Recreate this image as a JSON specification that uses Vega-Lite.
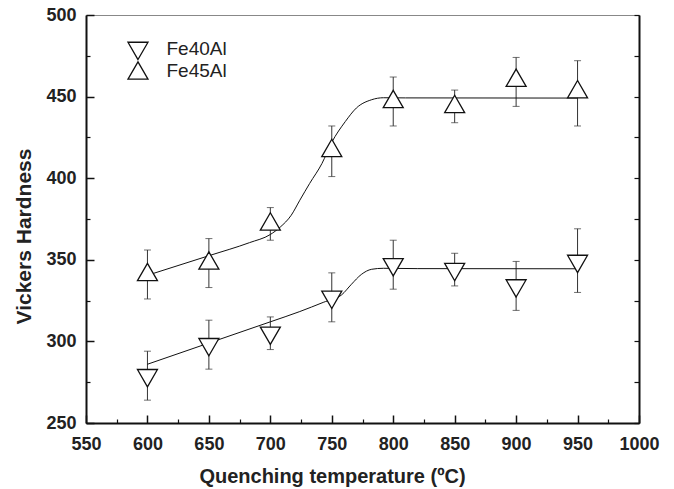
{
  "$schema": "https://vega.github.io/schema/vega-lite/v6.json",
  "width": 553,
  "height": 408,
  "autosize": "none",
  "padding": {"left": 86, "top": 15, "right": 35, "bottom": 66},
  "background": "white",
  "config": {
    "view": {"stroke": "#888888", "strokeWidth": 1},
    "font": "Liberation Sans"
  },
  "datasets": {
    "meas": [
      {"T": 600, "series": "Fe40Al", "v": 279, "lo": 264, "hi": 294},
      {"T": 650, "series": "Fe40Al", "v": 298, "lo": 283, "hi": 313},
      {"T": 700, "series": "Fe40Al", "v": 305, "lo": 295, "hi": 315},
      {"T": 750, "series": "Fe40Al", "v": 327, "lo": 312, "hi": 342},
      {"T": 800, "series": "Fe40Al", "v": 347, "lo": 332, "hi": 362},
      {"T": 850, "series": "Fe40Al", "v": 344, "lo": 334, "hi": 354},
      {"T": 900, "series": "Fe40Al", "v": 334, "lo": 319, "hi": 349},
      {"T": 950, "series": "Fe40Al", "v": 349, "lo": 330, "hi": 369},
      {"T": 600, "series": "Fe45Al", "v": 341, "lo": 326, "hi": 356},
      {"T": 650, "series": "Fe45Al", "v": 348, "lo": 333, "hi": 363},
      {"T": 700, "series": "Fe45Al", "v": 372, "lo": 362, "hi": 382},
      {"T": 750, "series": "Fe45Al", "v": 417, "lo": 401, "hi": 432},
      {"T": 800, "series": "Fe45Al", "v": 447, "lo": 432, "hi": 462},
      {"T": 850, "series": "Fe45Al", "v": 444, "lo": 434, "hi": 454},
      {"T": 900, "series": "Fe45Al", "v": 460, "lo": 444, "hi": 474},
      {"T": 950, "series": "Fe45Al", "v": 453, "lo": 432, "hi": 472}
    ],
    "fit": [
      {"T": 600, "series": "Fe40Al", "v": 286},
      {"T": 650, "series": "Fe40Al", "v": 299},
      {"T": 700, "series": "Fe40Al", "v": 312},
      {"T": 724, "series": "Fe40Al", "v": 318.3},
      {"T": 743, "series": "Fe40Al", "v": 323.9},
      {"T": 758, "series": "Fe40Al", "v": 328.5},
      {"T": 766, "series": "Fe40Al", "v": 335},
      {"T": 774, "series": "Fe40Al", "v": 341},
      {"T": 782.5, "series": "Fe40Al", "v": 344.2},
      {"T": 792, "series": "Fe40Al", "v": 344.8},
      {"T": 820, "series": "Fe40Al", "v": 344.6},
      {"T": 950, "series": "Fe40Al", "v": 344.5},
      {"T": 600, "series": "Fe45Al", "v": 340.5},
      {"T": 650, "series": "Fe45Al", "v": 352.5},
      {"T": 683, "series": "Fe45Al", "v": 360.5},
      {"T": 700, "series": "Fe45Al", "v": 365.5},
      {"T": 708, "series": "Fe45Al", "v": 370},
      {"T": 717, "series": "Fe45Al", "v": 377.3},
      {"T": 724, "series": "Fe45Al", "v": 386.5},
      {"T": 732, "series": "Fe45Al", "v": 396.8},
      {"T": 742, "series": "Fe45Al", "v": 409},
      {"T": 750, "series": "Fe45Al", "v": 422},
      {"T": 761, "series": "Fe45Al", "v": 434.7},
      {"T": 770, "series": "Fe45Al", "v": 443},
      {"T": 782.5, "series": "Fe45Al", "v": 448.1},
      {"T": 792, "series": "Fe45Al", "v": 449.3},
      {"T": 810, "series": "Fe45Al", "v": 449.2},
      {"T": 950, "series": "Fe45Al", "v": 449.1}
    ]
  },
  "layer": [
    {
      "data": {"name": "meas"},
      "mark": {"type": "rule", "color": "#333333", "strokeWidth": 1},
      "encoding": {
        "x": {
          "field": "T", "type": "quantitative",
          "scale": {"domain": [550, 1000], "nice": false, "zero": false},
          "axis": {
            "orient": "bottom",
            "values": [550, 600, 650, 700, 750, 800, 850, 900, 950, 1000],
            "format": "d",
            "tickSize": -8, "tickWidth": 1.5, "tickColor": "#111111",
            "domainWidth": 2, "domainColor": "#111111",
            "labelPadding": 20, "labelFont": "Liberation Sans", "labelFontWeight": "bold",
            "labelFontSize": 18, "labelColor": "#222222", "labelFlush": false, "labelOverlap": false,
            "grid": false,
            "title": "Quenching temperature (ºC)",
            "titleFont": "Liberation Sans", "titleFontWeight": "bold", "titleFontSize": 20,
            "titleColor": "#222222", "titleX": 246, "titleY": 59, "titleBaseline": "alphabetic"
          }
        },
        "y": {
          "field": "lo", "type": "quantitative",
          "scale": {"domain": [250, 500], "nice": false, "zero": false},
          "axis": {
            "orient": "left",
            "values": [250, 300, 350, 400, 450, 500],
            "format": "d",
            "tickSize": -8, "tickWidth": 1.5, "tickColor": "#111111",
            "domainWidth": 2, "domainColor": "#111111",
            "labelPadding": 18, "labelFont": "Liberation Sans", "labelFontWeight": "bold",
            "labelFontSize": 18, "labelColor": "#222222", "labelFlush": false, "labelOverlap": false,
            "grid": false,
            "title": "Vickers Hardness",
            "titleFont": "Liberation Sans", "titleFontWeight": "bold", "titleFontSize": 21,
            "titleColor": "#222222", "titleX": -62, "titleY": 221, "titleBaseline": "middle", "titleAngle": -90
          }
        },
        "y2": {"field": "hi"}
      }
    },
    {
      "data": {"name": "meas"},
      "mark": {"type": "tick", "orient": "horizontal", "size": 7, "thickness": 1, "color": "#333333"},
      "encoding": {
        "x": {
          "field": "T", "type": "quantitative",
          "axis": {
            "orient": "bottom",
            "values": [575, 625, 675, 725, 775, 825, 875, 925, 975],
            "tickSize": -4, "tickWidth": 1.2, "tickColor": "#111111",
            "domain": false, "labels": false, "grid": false, "title": null
          }
        },
        "y": {
          "field": "lo", "type": "quantitative",
          "axis": {
            "orient": "left",
            "values": [275, 325, 375, 425, 475],
            "tickSize": -4, "tickWidth": 1.2, "tickColor": "#111111",
            "domain": false, "labels": false, "grid": false, "title": null
          }
        }
      }
    },
    {
      "data": {"name": "meas"},
      "mark": {"type": "tick", "orient": "horizontal", "size": 7, "thickness": 1, "color": "#333333"},
      "encoding": {
        "x": {"field": "T", "type": "quantitative", "axis": null},
        "y": {"field": "hi", "type": "quantitative", "axis": null}
      }
    },
    {
      "data": {"name": "fit"},
      "mark": {"type": "line", "interpolate": "monotone", "color": "#111111", "strokeWidth": 1},
      "encoding": {
        "x": {"field": "T", "type": "quantitative", "axis": null},
        "y": {
          "field": "v", "type": "quantitative",
          "axis": {
            "orient": "right",
            "values": [250, 275, 300, 325, 350, 375, 400, 425, 450, 475, 500],
            "tickSize": -5, "tickWidth": 1.2, "tickColor": "#111111",
            "domainWidth": 2, "domainColor": "#111111",
            "labels": false, "grid": false, "title": null
          }
        },
        "detail": {"field": "series"}
      }
    },
    {
      "data": {"name": "meas"},
      "transform": [{"filter": "datum.series === 'Fe40Al'"}],
      "mark": {"type": "point", "filled": true, "color": "white", "stroke": "#111111", "strokeWidth": 1.3, "opacity": 1, "size": 400, "yOffset": 2.5},
      "encoding": {
        "x": {"field": "T", "type": "quantitative", "axis": null},
        "y": {"field": "v", "type": "quantitative", "axis": null},
        "shape": {
          "field": "series", "type": "nominal",
          "scale": {"domain": ["Fe40Al", "Fe45Al"], "range": ["triangle-down", "triangle-up"]},
          "legend": null
        }
      }
    },
    {
      "data": {"name": "meas"},
      "transform": [{"filter": "datum.series === 'Fe45Al'"}],
      "mark": {"type": "point", "filled": true, "color": "white", "stroke": "#111111", "strokeWidth": 1.3, "opacity": 1, "size": 400, "yOffset": -2.5},
      "encoding": {
        "x": {"field": "T", "type": "quantitative", "axis": null},
        "y": {"field": "v", "type": "quantitative", "axis": null},
        "shape": {"field": "series", "type": "nominal", "legend": null}
      }
    },
    {
      "data": {"values": [{"series": "Fe40Al"}]},
      "mark": {"type": "point", "filled": true, "color": "white", "stroke": "#111111", "strokeWidth": 1.3, "opacity": 1, "size": 400},
      "encoding": {
        "x": {"datum": 592.3, "type": "quantitative", "axis": null},
        "y": {"datum": 478, "type": "quantitative", "axis": null},
        "shape": {"field": "series", "type": "nominal", "legend": null}
      }
    },
    {
      "data": {"values": [{"series": "Fe45Al"}]},
      "mark": {"type": "point", "filled": true, "color": "white", "stroke": "#111111", "strokeWidth": 1.3, "opacity": 1, "size": 400},
      "encoding": {
        "x": {"datum": 592.3, "type": "quantitative", "axis": null},
        "y": {"datum": 466, "type": "quantitative", "axis": null},
        "shape": {"field": "series", "type": "nominal", "legend": null}
      }
    },
    {
      "data": {"values": [{"series": "Fe40Al"}]},
      "mark": {"type": "text", "align": "left", "baseline": "middle", "font": "Liberation Sans", "fontSize": 19, "color": "#222222"},
      "encoding": {
        "x": {"datum": 615.5, "type": "quantitative", "axis": null},
        "y": {"datum": 479, "type": "quantitative", "axis": null},
        "text": {"field": "series"}
      }
    },
    {
      "data": {"values": [{"series": "Fe45Al"}]},
      "mark": {"type": "text", "align": "left", "baseline": "middle", "font": "Liberation Sans", "fontSize": 19, "color": "#222222"},
      "encoding": {
        "x": {"datum": 615.5, "type": "quantitative", "axis": null},
        "y": {"datum": 465.5, "type": "quantitative", "axis": null},
        "text": {"field": "series"}
      }
    }
  ],
  "resolve": {"axis": {"x": "independent", "y": "independent"}}
}
